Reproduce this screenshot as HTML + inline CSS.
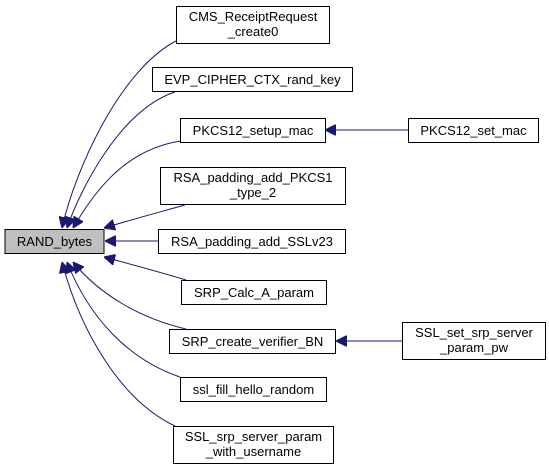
<!DOCTYPE html>
<html><head><meta charset="utf-8"><style>
html,body{margin:0;padding:0;background:#fff;}
svg{display:block}
text{font-family:"Liberation Sans",Helvetica,Arial,sans-serif;font-size:13px;fill:#000;text-anchor:middle}
.b{fill:#fff;stroke:#000;stroke-width:1}
.e{fill:none;stroke:#191970;stroke-width:1}
</style></head><body>
<svg width="549" height="471" viewBox="0 0 549 471" xmlns="http://www.w3.org/2000/svg">
<defs><marker id="a" viewBox="0 0 10 10" refX="10" refY="5" markerWidth="11" markerHeight="11" markerUnits="userSpaceOnUse" orient="auto"><path d="M0,0 L10,5 L0,10 z" fill="#191970" stroke="#191970"/></marker></defs>
<!-- edges -->
<path class="e" marker-end="url(#a)" d="M176,41 C120,70 75,170 62,228"/>
<path class="e" marker-end="url(#a)" d="M175,92 C120,110 80,190 67,228"/>
<path class="e" marker-end="url(#a)" d="M181,141 C120,150 90,200 73,228"/>
<path class="e" marker-end="url(#a)" d="M185,205 C160,212 130,220 104,228"/>
<path class="e" marker-end="url(#a)" d="M158,241 L105,241"/>
<path class="e" marker-end="url(#a)" d="M186,280 C160,272 130,264 104,257"/>
<path class="e" marker-end="url(#a)" d="M186,329 C140,318 100,295 73,262"/>
<path class="e" marker-end="url(#a)" d="M180,377 C130,360 90,320 67,262"/>
<path class="e" marker-end="url(#a)" d="M175,426 C120,400 80,330 62,262"/>
<path class="e" marker-end="url(#a)" d="M408,130 L325,130"/>
<path class="e" marker-end="url(#a)" d="M402,341 L336,341"/>
<!-- nodes -->
<rect x="5" y="229.5" width="99" height="24" fill="#bfbfbf" stroke="#000"/>
<text x="54.5" y="246">RAND_bytes</text>
<rect class="b" x="176.5" y="6.5" width="153" height="37"/>
<text x="253" y="21">CMS_ReceiptRequest</text><text x="253" y="36">_create0</text>
<rect class="b" x="152.5" y="67.5" width="200" height="24"/>
<text x="252.5" y="84">EVP_CIPHER_CTX_rand_key</text>
<rect class="b" x="180.5" y="118.5" width="145" height="24"/>
<text x="253" y="135">PKCS12_setup_mac</text>
<rect class="b" x="408.5" y="118.5" width="130" height="24"/>
<text x="473.5" y="135">PKCS12_set_mac</text>
<rect class="b" x="160.5" y="167.5" width="185" height="37"/>
<text x="253" y="182">RSA_padding_add_PKCS1</text><text x="253" y="197">_type_2</text>
<rect class="b" x="158.5" y="229.5" width="187" height="24"/>
<text x="252" y="246">RSA_padding_add_SSLv23</text>
<rect class="b" x="181.5" y="280.5" width="145" height="24"/>
<text x="254" y="297">SRP_Calc_A_param</text>
<rect class="b" x="169.5" y="329.5" width="166" height="24"/>
<text x="252.5" y="346">SRP_create_verifier_BN</text>
<rect class="b" x="402.5" y="322.5" width="143" height="37"/>
<text x="474" y="337">SSL_set_srp_server</text><text x="474" y="352">_param_pw</text>
<rect class="b" x="180.5" y="377.5" width="146" height="24"/>
<text x="253.5" y="394">ssl_fill_hello_random</text>
<rect class="b" x="173.5" y="426.5" width="160" height="37"/>
<text x="253.5" y="441">SSL_srp_server_param</text><text x="253.5" y="456">_with_username</text>
</svg>
</body></html>
